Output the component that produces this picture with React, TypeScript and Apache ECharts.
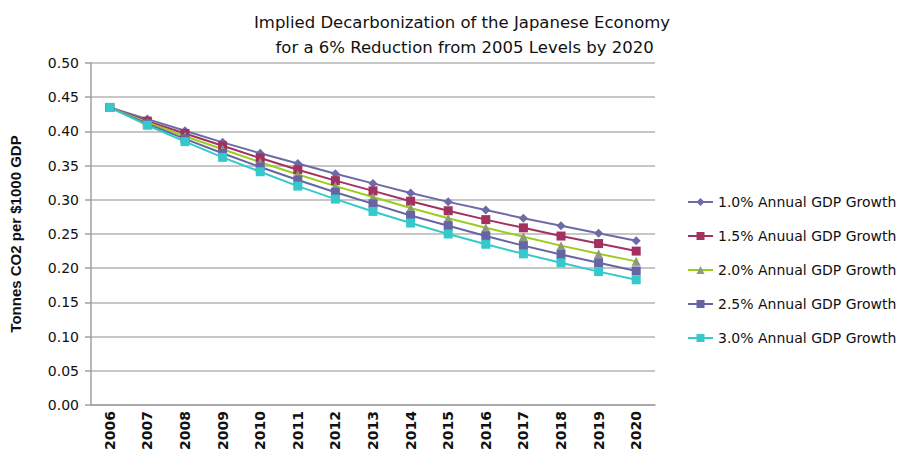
import React, { useEffect, useRef } from "react";
import * as echarts from "echarts";

const years = ["2006","2007","2008","2009","2010","2011","2012","2013","2014","2015","2016","2017","2018","2019","2020"];
const g10 = [0.435, 0.418, 0.401, 0.384, 0.368, 0.353, 0.338, 0.324, 0.310, 0.297, 0.285, 0.273, 0.262, 0.251, 0.240];
const g15 = [0.435, 0.415, 0.397, 0.379, 0.361, 0.344, 0.328, 0.313, 0.298, 0.284, 0.271, 0.259, 0.247, 0.236, 0.225];
const g20 = [0.435, 0.413, 0.393, 0.374, 0.355, 0.337, 0.320, 0.304, 0.288, 0.273, 0.259, 0.246, 0.233, 0.221, 0.210];
const g25 = [0.435, 0.411, 0.389, 0.368, 0.348, 0.329, 0.311, 0.294, 0.277, 0.262, 0.247, 0.233, 0.220, 0.208, 0.196];
const g30 = [0.435, 0.409, 0.385, 0.362, 0.341, 0.320, 0.301, 0.283, 0.266, 0.250, 0.235, 0.221, 0.208, 0.195, 0.183];
const seriesNames = [
  "1.0% Annual GDP Growth",
  "1.5% Anuual GDP Growth",
  "2.0% Annual GDP Growth",
  "2.5% Annual GDP Growth",
  "3.0% Annual GDP Growth",
];

export default function App() {
  const ref = useRef<HTMLDivElement>(null);
  useEffect(() => {
    const chart = echarts.init(ref.current!, null, { renderer: "svg" });
    const font = "DejaVu Sans";
    const mk = (name: string, data: number[], line: string, marker: string, symbol: string, size: number) => ({
      name,
      type: "line",
      data,
      symbol,
      symbolSize: size,
      lineStyle: { color: line, width: 2 },
      itemStyle: { color: marker },
      color: line,
    });
    chart.setOption({
      animation: false,
      backgroundColor: "#ffffff",
      title: {
        text: "Implied Decarbonization of the Japanese Economy\n for a 6% Reduction from 2005 Levels by 2020",
        left: 457,
        textAlign: "center",
        top: 5,
        textStyle: { fontFamily: font, fontSize: 16.5, fontWeight: "normal", color: "#111", lineHeight: 25 },
      },
      legend: {
        orient: "vertical",
        left: 682,
        top: 190,
        itemGap: 20,
        itemWidth: 25,
        itemHeight: 10,
        textStyle: { fontFamily: font, fontSize: 14, color: "#111" },
        data: seriesNames,
      },
      grid: { left: 87, right: 250, top: 63, bottom: 53 },
      xAxis: {
        type: "category",
        data: years,
        boundaryGap: true,
        axisLine: { lineStyle: { color: "#a0a0a0", width: 1.5 } },
        axisTick: { show: false },
        axisLabel: { rotate: 90, fontFamily: "DejaVu Sans", fontSize: 14, fontWeight: "bold", color: "#111", margin: 6 },
      },
      yAxis: {
        type: "value",
        min: 0,
        max: 0.5,
        interval: 0.05,
        name: "Tonnes CO2 per $1000 GDP",
        nameLocation: "middle",
        nameGap: 68,
        nameRotate: 90,
        nameTextStyle: { fontFamily: "Liberation Sans", fontSize: 15, fontWeight: "bold", color: "#111" },
        axisLine: { show: true, lineStyle: { color: "#a0a0a0", width: 1.5 } },
        axisTick: { show: true, length: 6, lineStyle: { color: "#a0a0a0", width: 1.5 } },
        splitLine: { lineStyle: { color: "#b4b4b4", width: 1.5 } },
        axisLabel: {
          fontFamily: font,
          fontSize: 14,
          color: "#111",
          margin: 12,
          formatter: (v: number) => v.toFixed(2),
        },
      },
      series: [
        mk(seriesNames[0], g10, "#6b6ba8", "#6b6ba8", "diamond", 9),
        mk(seriesNames[1], g15, "#a2315f", "#a2315f", "rect", 9),
        mk(seriesNames[2], g20, "#9acd1c", "#8e9a78", "triangle", 9),
        mk(seriesNames[3], g25, "#6565a3", "#6565a3", "rect", 9),
        mk(seriesNames[4], g30, "#35c9cc", "#35c9cc", "rect", 9),
      ],
    });
    return () => chart.dispose();
  }, []);
  return <div ref={ref} style={{ position: "fixed", left: 0, top: 0, width: 905, height: 458 }} />;
}
